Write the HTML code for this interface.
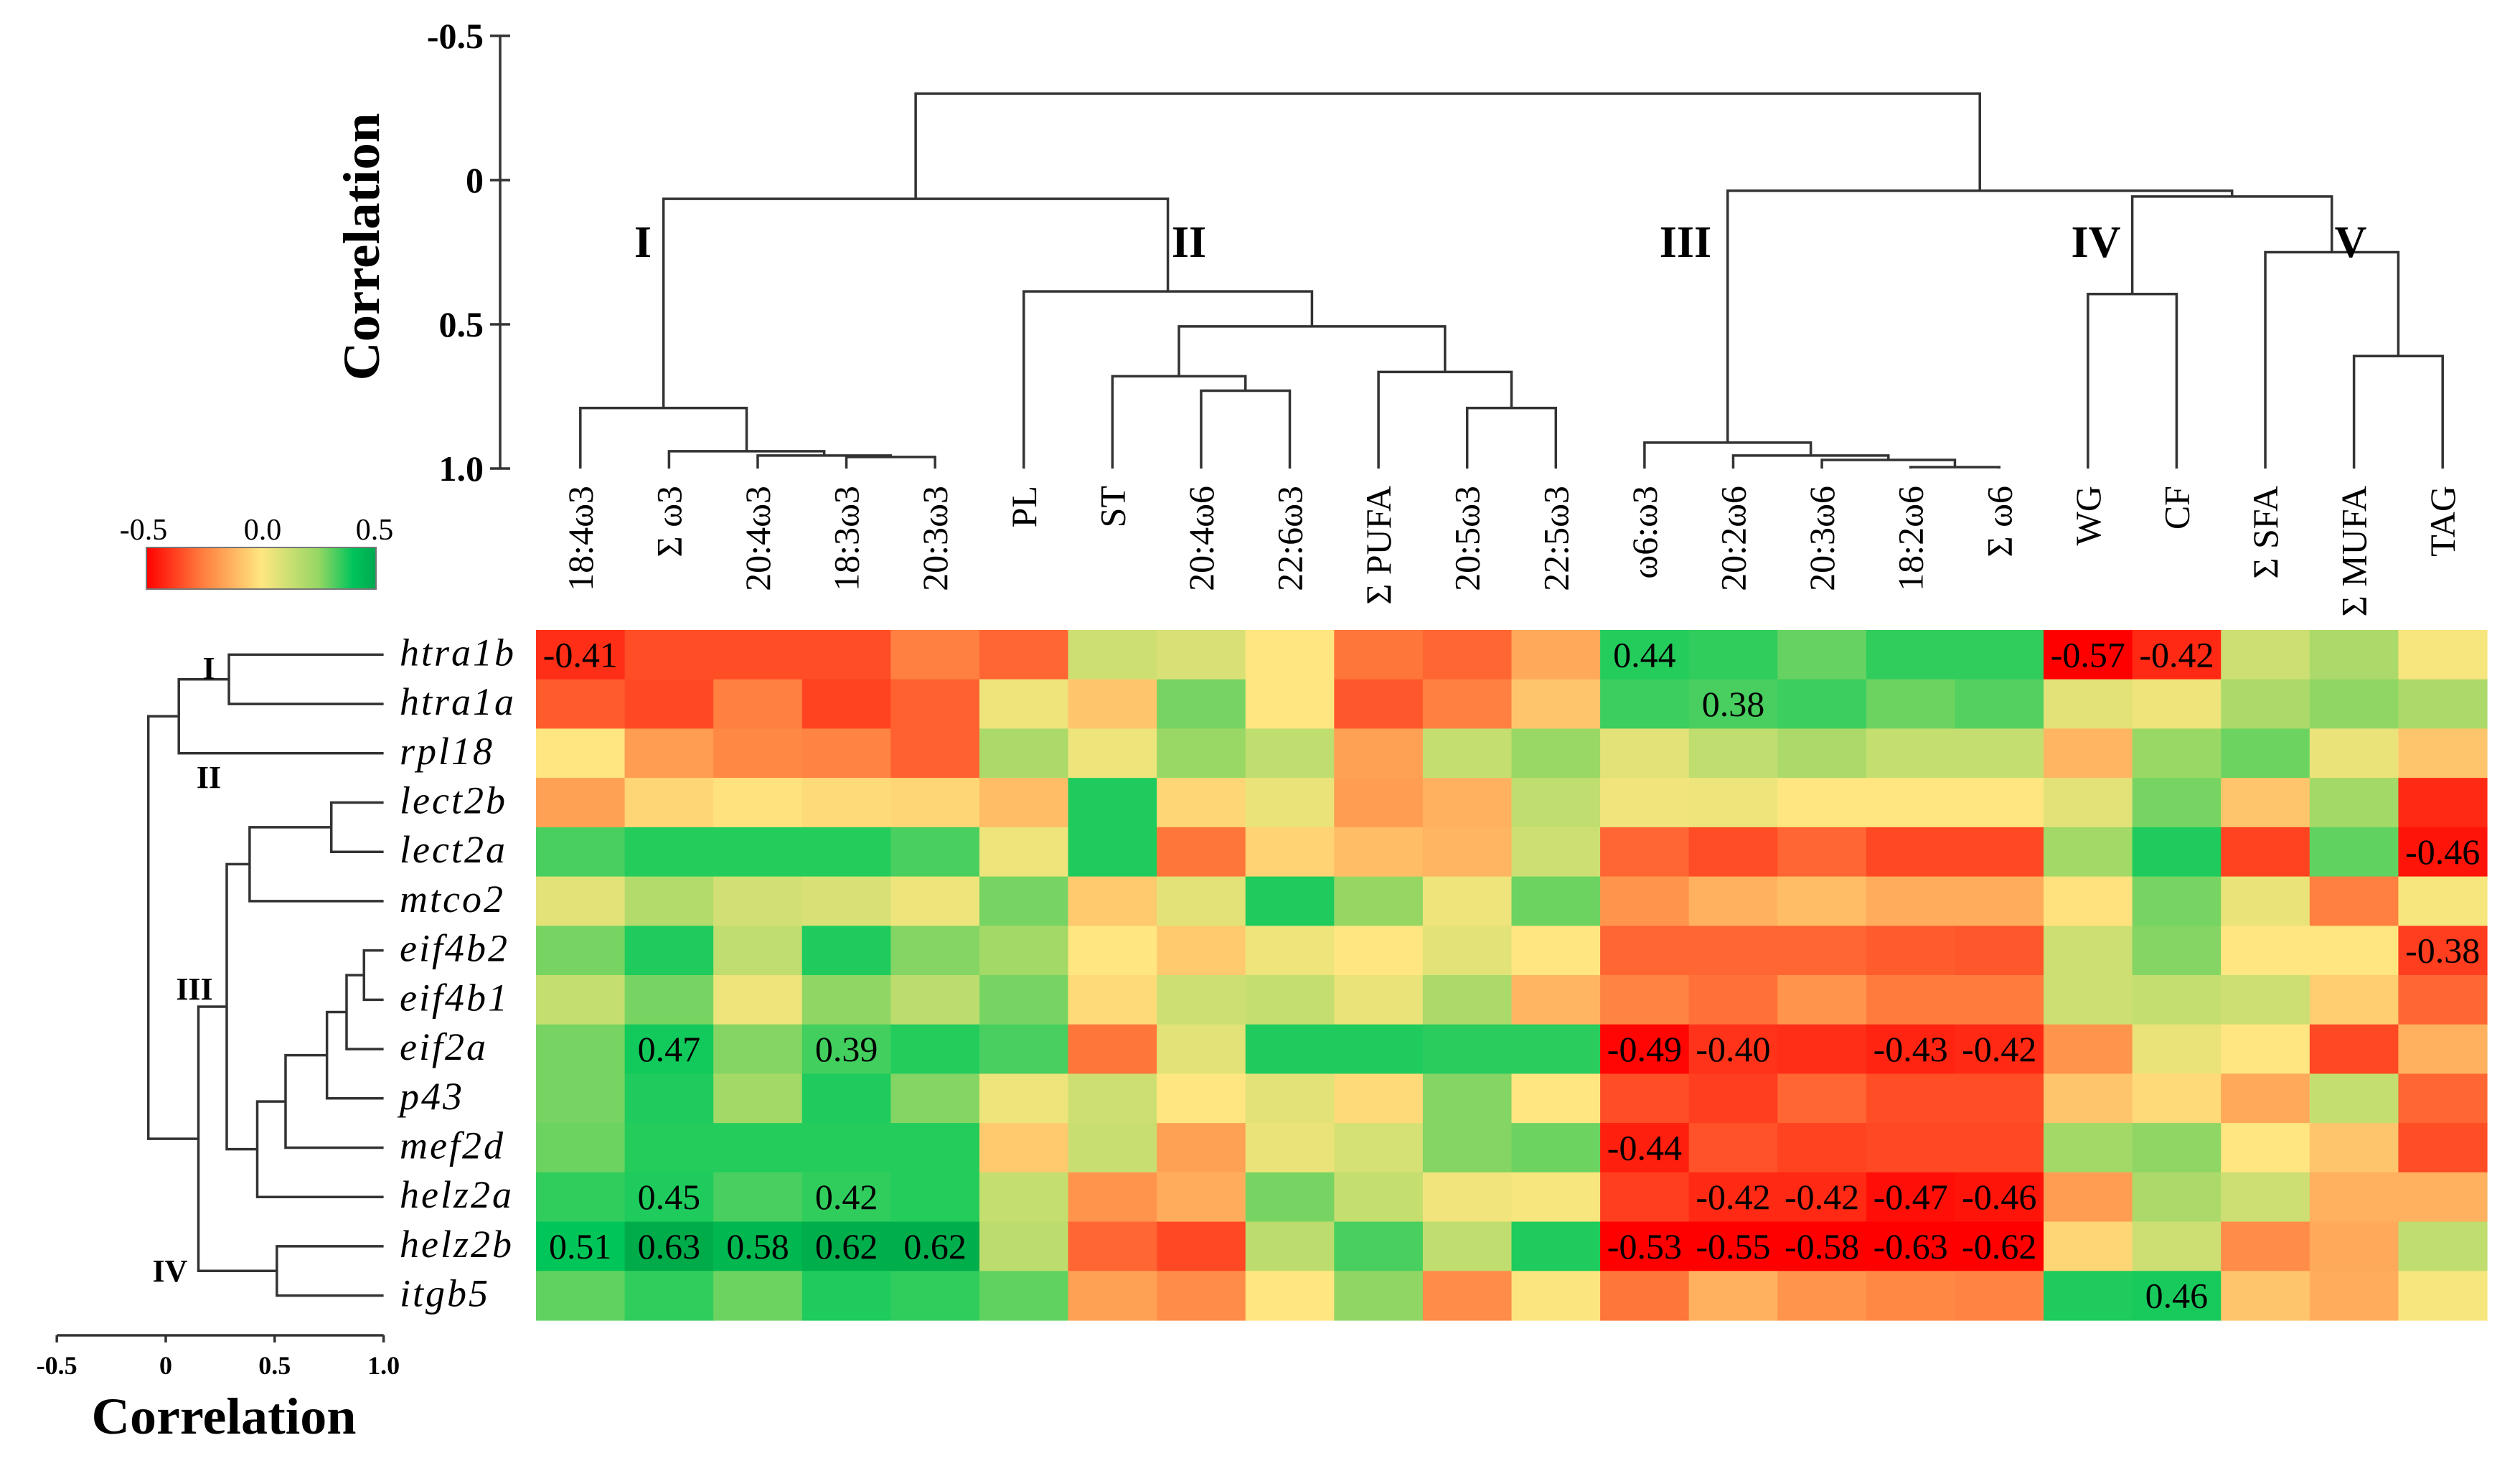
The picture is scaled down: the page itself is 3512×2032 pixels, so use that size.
<!DOCTYPE html>
<html><head><meta charset="utf-8"><style>
html,body{margin:0;padding:0;background:#fff;}
svg{display:block;}
text{font-family:"Liberation Serif",serif;}
</style></head><body>
<svg id="chart" width="3512" height="2032" viewBox="0 0 3512 2032" xmlns="http://www.w3.org/2000/svg" font-family="Liberation Serif, serif">
<defs>
<linearGradient id="cbar" x1="0" x2="1" y1="0" y2="0">
<stop offset="0" stop-color="#ff0000"/><stop offset="0.25" stop-color="#ff8040"/><stop offset="0.5" stop-color="#ffe680"/><stop offset="0.75" stop-color="#96d764"/><stop offset="0.9" stop-color="#00c45a"/><stop offset="1" stop-color="#00a850"/>
</linearGradient>
</defs>
<g id="legend">
<rect x="204" y="763" width="320" height="58" fill="url(#cbar)" stroke="#777" stroke-width="2"/>
<text x="200" y="752" font-size="42" text-anchor="middle" font-family="Liberation Serif, serif">-0.5</text>
<text x="366" y="752" font-size="42" text-anchor="middle" font-family="Liberation Serif, serif">0.0</text>
<text x="522" y="752" font-size="42" text-anchor="middle" font-family="Liberation Serif, serif">0.5</text>
</g>
<g id="heat"></g>
<g id="topdend"></g>
<g id="leftdend"></g>
<g id="labels"></g>
</svg>
<script>
const columns = ["18:4ω3","Σ ω3","20:4ω3","18:3ω3","20:3ω3","PL","ST","20:4ω6","22:6ω3","Σ PUFA","20:5ω3","22:5ω3","ω6:ω3","20:2ω6","20:3ω6","18:2ω6","Σ ω6","WG","CF","Σ SFA","Σ MUFA","TAG"];
const genes = ["htra1b","htra1a","rpl18","lect2b","lect2a","mtco2","eif4b2","eif4b1","eif2a","p43","mef2d","helz2a","helz2b","itgb5"];
const r0 = [-0.41,-0.35,-0.35,-0.35,-0.25,-0.3,0.12,0.09,0.0,-0.27,-0.3,-0.15,0.44,0.42,0.33,0.42,0.42,-0.57,-0.42,0.12,0.2,0.02];
const r1 = [-0.32,-0.36,-0.25,-0.37,-0.31,0.04,-0.08,0.3,0.0,-0.33,-0.25,-0.08,0.40,0.38,0.40,0.32,0.36,0.07,0.04,0.2,0.26,0.2];
const r2 = [0.0,-0.18,-0.23,-0.24,-0.31,0.2,0.04,0.24,0.15,-0.17,0.14,0.24,0.07,0.15,0.2,0.14,0.14,-0.12,0.24,0.32,0.05,-0.08];
const r3 = [-0.17,-0.04,-0.01,-0.03,-0.04,-0.1,0.45,-0.04,0.05,-0.18,-0.13,0.15,0.03,0.04,0.0,0.0,0.0,0.07,0.3,-0.08,0.22,-0.42];
const r4 = [0.38,0.44,0.44,0.44,0.38,0.04,0.45,-0.27,-0.05,-0.1,-0.12,0.12,-0.3,-0.35,-0.3,-0.36,-0.36,0.22,0.45,-0.37,0.34,-0.46];
const r5 = [0.07,0.18,0.11,0.09,0.04,0.3,-0.07,0.07,0.45,0.25,0.04,0.32,-0.2,-0.13,-0.1,-0.14,-0.14,-0.01,0.3,0.05,-0.25,0.02];
const r6 = [0.3,0.45,0.15,0.45,0.28,0.22,0.0,-0.07,0.04,0.0,0.07,0.0,-0.3,-0.3,-0.3,-0.32,-0.33,0.12,0.28,0.0,0.0,-0.38];
const r7 = [0.14,0.3,0.04,0.26,0.16,0.3,-0.03,0.12,0.14,0.05,0.2,-0.12,-0.24,-0.28,-0.2,-0.26,-0.26,0.12,0.14,0.12,-0.06,-0.3];
const r8 = [0.3,0.47,0.28,0.39,0.44,0.38,-0.27,0.07,0.45,0.45,0.43,0.43,-0.49,-0.40,-0.41,-0.43,-0.42,-0.2,0.05,0.0,-0.36,-0.13];
const r9 = [0.3,0.45,0.22,0.45,0.28,0.04,0.12,0.0,0.07,-0.03,0.28,0.0,-0.35,-0.38,-0.3,-0.35,-0.35,-0.08,-0.03,-0.15,0.14,-0.3];
const r10 = [0.32,0.44,0.44,0.44,0.44,-0.07,0.13,-0.17,0.05,0.1,0.28,0.32,-0.44,-0.34,-0.37,-0.36,-0.36,0.22,0.26,0.0,-0.08,-0.35];
const r11 = [0.42,0.45,0.38,0.42,0.44,0.14,-0.2,-0.14,0.3,0.14,0.03,0.02,-0.38,-0.42,-0.42,-0.47,-0.46,-0.18,0.2,0.12,-0.13,-0.13];
const r12 = [0.51,0.63,0.58,0.62,0.62,0.16,-0.3,-0.36,0.16,0.38,0.15,0.45,-0.53,-0.55,-0.58,-0.63,-0.62,-0.04,0.12,-0.22,-0.15,0.15];
const r13 = [0.34,0.42,0.32,0.45,0.42,0.34,-0.17,-0.22,0.0,0.26,-0.22,0.01,-0.27,-0.13,-0.2,-0.23,-0.24,0.45,0.46,-0.08,-0.14,0.02];
const values = [r0,r1,r2,r3,r4,r5,r6,r7,r8,r9,r10,r11,r12,r13];
const shownCells = [[0,0],[0,12],[0,17],[0,18],[1,13],[4,21],[6,21],[8,1],[8,3],[8,12],[8,13],[8,15],[8,16],[10,12],[11,1],[11,3],[11,13],[11,14],[11,15],[11,16],[12,0],[12,1],[12,2],[12,3],[12,4],[12,12],[12,13],[12,14],[12,15],[12,16],[13,18]];
const topTree = [[[0,[1,[2,[3,4,0.96],0.955],0.94],0.79],[5,[[6,[7,8,0.73],0.68],[9,[10,11,0.79],0.665],0.507],0.386],0.065],[[12,[13,[14,[15,16,0.995],0.97],0.955],0.91],[[17,18,0.395],[19,[20,21,0.61],0.25],0.057],0.037],-0.30];
const leftTree = [[[0,1,0.29],2,0.06],[[[[3,4,0.76],5,0.385],[[[[[6,7,0.91],8,0.83],9,0.74],10,0.55],11,0.42],0.28],[12,13,0.51],0.15],-0.08];
const topTicks = ["-0.5","0","0.5","1.0"];
const topTickVals = [-0.5,0,0.5,1.0];
const leftTicks = ["-0.5","0","0.5","1.0"];
const leftTickVals = [-0.5,0,0.5,1.0];

const NS="http://www.w3.org/2000/svg";
const SERIF="Liberation Serif, serif";
function mk(tag,attrs,parent){const e=document.createElementNS(NS,tag);for(const k in attrs)e.setAttribute(k,attrs[k]);if(tag==='text')e.setAttribute('font-family',SERIF);parent.appendChild(e);return e;}
const HX0=747,HX1=3466,HY0=878,HY1=1840;
const cw=(HX1-HX0)/columns.length, rh=(HY1-HY0)/genes.length;
const colX=i=>HX0+cw*(i+0.5);
const rowY=i=>HY0+rh*(i+0.5);
const topY=c=>251+c*402;
const leftX=c=>231+c*303.6;
const stops=[[-0.5,[255,0,0]],[-0.25,[255,128,64]],[0,[255,230,128]],[0.25,[150,215,100]],[0.5,[0,200,90]],[0.65,[0,168,72]]];
function color(v){
 if(v<=stops[0][0])return 'rgb('+stops[0][1]+')';
 for(let i=1;i<stops.length;i++){if(v<=stops[i][0]){const a=stops[i-1],b=stops[i];const t=(v-a[0])/(b[0]-a[0]);return 'rgb('+a[1].map((x,j)=>Math.round(x+(b[1][j]-x)*t)).join(',')+')';}}
 return 'rgb('+stops[stops.length-1][1]+')';
}
const heat=document.getElementById('heat');
values.forEach((row,r)=>row.forEach((v,c)=>{
 const e=mk('rect',{x:HX0+c*cw,y:HY0+r*rh,width:cw+0.6,height:rh+0.6,fill:color(v)},heat);
 
 
}));
shownCells.forEach(([r,c])=>{
 const v=values[r][c];
 const t=mk('text',{x:colX(c),y:rowY(r)+17,'font-size':50,'text-anchor':'middle',fill:'#000'},heat);
 t.textContent=v.toFixed(2);
 
 
});
const LS={stroke:'#333','stroke-width':3.5,fill:'none'};
const td=document.getElementById('topdend');
function drawTop(n){
 if(typeof n==='number')return [colX(n),topY(1.0)];
 const a=drawTop(n[0]),b=drawTop(n[1]),y=topY(n[2]);
 const p=mk('path',Object.assign({d:`M${a[0]},${a[1]}V${y}H${b[0]}V${b[1]}`},LS),td);
 
 
 return [(a[0]+b[0])/2,y];
}
drawTop(topTree);
const ld=document.getElementById('leftdend');
function drawLeft(n){
 if(typeof n==='number')return [leftX(1.0),rowY(n)];
 const a=drawLeft(n[0]),b=drawLeft(n[1]),x=leftX(n[2]);
 const p=mk('path',Object.assign({d:`M${a[0]},${a[1]}H${x}V${b[1]}H${b[0]}`},LS),ld);
 
 
 return [x,(a[1]+b[1])/2];
}
drawLeft(leftTree);
const lab=document.getElementById('labels');
let ax=mk('line',{x1:697,y1:topY(-0.5),x2:697,y2:topY(1.0),stroke:'#333','stroke-width':3.5},lab);


topTickVals.forEach((v,i)=>{
 const l=mk('line',{x1:683,x2:711,y1:topY(v),y2:topY(v),stroke:'#333','stroke-width':3.5},lab);
 
 
 const t=mk('text',{x:674,y:topY(v)+17,'font-size':50,'font-weight':'bold','text-anchor':'end'},lab);
 t.textContent=topTicks[i];
 
 
});
let tt=mk('text',{x:0,y:0,'font-size':72,'font-weight':'bold','text-anchor':'middle',transform:'translate(528,344) rotate(-90)',textLength:373,lengthAdjust:'spacingAndGlyphs'},lab);
tt.textContent='Correlation';


ax=mk('line',{x1:leftX(-0.5),y1:1861,x2:leftX(1.0),y2:1861,stroke:'#333','stroke-width':3.5},lab);


leftTickVals.forEach((v,i)=>{
 const l=mk('line',{x1:leftX(v),x2:leftX(v),y1:1861,y2:1871,stroke:'#333','stroke-width':3.5},lab);
 
 
 const t=mk('text',{x:leftX(v),y:1915,'font-size':36,'font-weight':'bold','text-anchor':'middle'},lab);
 t.textContent=leftTicks[i];
 
 
});
tt=mk('text',{x:312,y:1998,'font-size':72,'font-weight':'bold','text-anchor':'middle',textLength:369,lengthAdjust:'spacingAndGlyphs'},lab);
tt.textContent='Correlation';


columns.forEach((c,i)=>{
 const t=mk('text',{x:0,y:0,'font-size':50,'text-anchor':'end',transform:`translate(${colX(i)+17},677) rotate(-90)`},lab);
 t.textContent=c;
 
 
});
genes.forEach((g,i)=>{
 const t=mk('text',{x:557,y:rowY(i)+15,'font-size':54,'font-style':'italic','letter-spacing':3},lab);
 t.textContent=g;
 
 
});
const topRoman=[["I",896],["II",1657],["III",2349],["IV",2921],["V",3276]];
topRoman.forEach(([s,x])=>{
 const t=mk('text',{x:x,y:358,'font-size':62,'font-weight':'bold','text-anchor':'middle'},lab);
 t.textContent=s;
 
 
});
const leftRoman=[["I",291,946],["II",291,1098],["III",271,1393],["IV",237,1786]];
leftRoman.forEach(([s,x,y])=>{
 const t=mk('text',{x:x,y:y,'font-size':44,'font-weight':'bold','text-anchor':'middle'},lab);
 t.textContent=s;
 
 
});
</script>
</body></html>
